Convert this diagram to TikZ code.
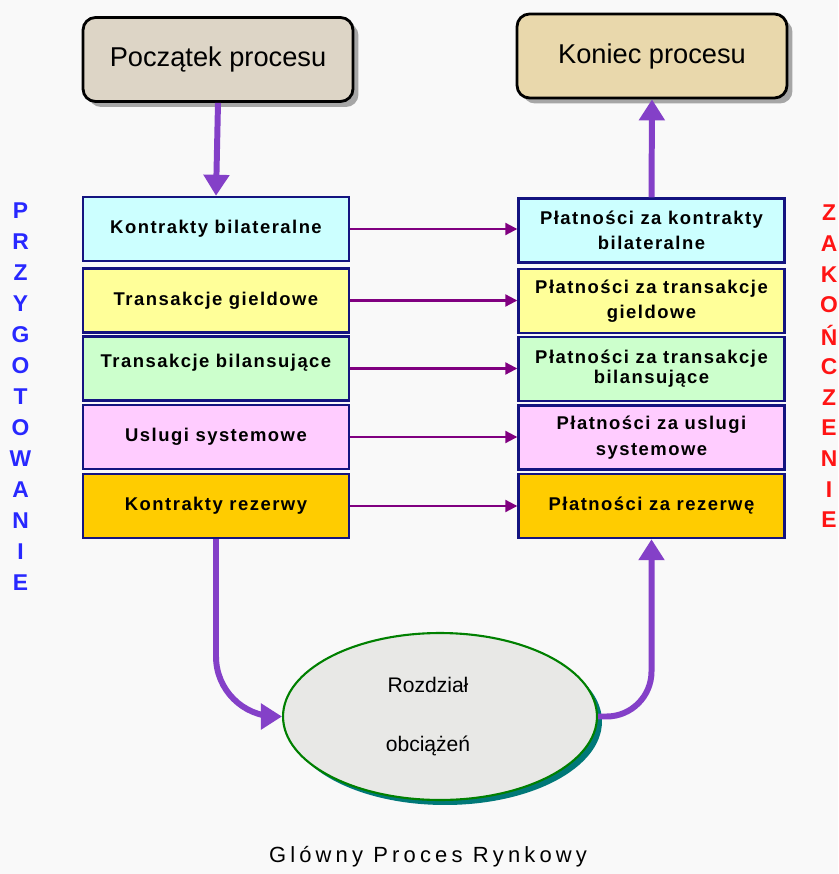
\documentclass[tikz,border=0pt]{standalone}
\usepackage{fontspec}
\setmainfont{Liberation Sans}
\newfontfamily\captionfont[LetterSpace=19]{Liberation Sans}
\newfontfamily\boxfont[LetterSpace=8]{Liberation Sans}
\usepackage{tikz}
\usetikzlibrary{arrows.meta,shapes.geometric,shadows}
\definecolor{pagebg}{RGB}{249,249,249}
\definecolor{rynekviolet}{RGB}{132,64,200}
\definecolor{payviolet}{RGB}{128,0,128}
\definecolor{boxnavy}{RGB}{20,20,128}
\definecolor{startfill}{RGB}{221,213,198}
\definecolor{endfill}{RGB}{233,216,172}
\definecolor{bilcyan}{RGB}{204,255,255}
\definecolor{gieldyellow}{RGB}{255,255,153}
\definecolor{bilgreen}{RGB}{204,255,204}
\definecolor{uslpink}{RGB}{255,204,255}
\definecolor{rezgold}{RGB}{255,204,0}
\definecolor{ellfill}{RGB}{232,232,230}
\definecolor{ellgreen}{RGB}{0,128,0}
\definecolor{ellteal}{RGB}{0,120,120}
\definecolor{prepblue}{RGB}{40,40,255}
\definecolor{endred}{RGB}{255,20,20}

\begin{document}
\begin{tikzpicture}[x=0.02cm, y=-0.02cm,
  topbox/.style={draw=black, line width=1.6pt, rounded corners=0.25cm,
    minimum width=5.4cm, minimum height=1.68cm,
    font=\fontsize{15.5}{18}\selectfont,
    drop shadow={shadow xshift=0.11cm, shadow yshift=-0.11cm, fill=gray!70, opacity=1}},
  stagebox/.style={draw=boxnavy, line width=1.4pt, minimum width=5.32cm,
    minimum height=1.28cm, align=center,
    font=\boxfont\bfseries\fontsize{10.5}{14.5}\selectfont,
    drop shadow={shadow xshift=0.03cm, shadow yshift=-0.03cm, fill=gray!60, opacity=1}},
  rynekarrow/.style={draw=rynekviolet, line width=3.4pt,
    -{Triangle[length=0.42cm, width=0.5cm]}},
  payarrow/.style={draw=payviolet, line width=1.2pt,
    -{Triangle[length=0.24cm, width=0.24cm]}},
  sideletter/.style={font=\bfseries\fontsize{13}{15}\selectfont, inner sep=0pt}]

  \useasboundingbox (0,0) rectangle (838,874);
  \fill[pagebg] (0,0) rectangle (838,874);

  % start and end of the process
  \node[topbox, fill=startfill] (poczatek) at (218,59.5) {Początek procesu};
  \node[topbox, fill=endfill] (koniec) at (652,56) {Koniec procesu};

  % preparation column
  \node[stagebox, fill=bilcyan] (kb) at (216,229) {Kontrakty bilateralne};
  \node[stagebox, fill=gieldyellow] (tg) at (216,300.5) {Transakcje gieldowe};
  \node[stagebox, fill=bilgreen] (tb) at (216,368.5) {Transakcje bilansujące\\[-6pt]};
  \node[stagebox, fill=uslpink] (us) at (216,437) {Uslugi systemowe};
  \node[stagebox, fill=rezgold] (kr) at (216,506) {Kontrakty rezerwy};

  % settlement column
  \node[stagebox, fill=bilcyan] (pkb) at (651.5,230.5) {Płatności za kontrakty\\bilateralne};
  \node[stagebox, fill=gieldyellow] (ptg) at (651.5,301) {Płatności za transakcje\\gieldowe};
  \node[stagebox, fill=bilgreen] (ptb) at (651.5,369) {Płatności za transakcje\\[-3pt]bilansujące};
  \node[stagebox, fill=uslpink] (pus) at (651.5,437.5) {Płatności za uslugi\\systemowe};
  \node[stagebox, fill=rezgold] (pkr) at (651.5,506) {Płatności za rezerwę};

  % load allocation
  \node[ellipse, draw=ellgreen, line width=1.2pt, fill=ellfill,
    minimum width=6.28cm, minimum height=3.34cm, align=center,
    font=\fontsize{12}{34}\selectfont,
    drop shadow={shadow xshift=0.1cm, shadow yshift=-0.1cm, fill=ellteal, opacity=1}]
    (rozdzial) at (440,716.5) {Rozdział\hspace*{0.48cm}\\obciążeń\hspace*{0.48cm}};

  \node[font=\captionfont\fontsize{12.5}{14}\selectfont] (glowny) at (428,857) {Glówny Proces Rynkowy};

  % side captions
  \foreach \ch [count=\i from 0] in {P,R,Z,Y,G,O,T,O,W,A,N,I,E}
    \node[sideletter, text=prepblue] (prep\i) at (20.5,{211+31*\i}) {\ch};
  \foreach \ch [count=\i from 0] in {Z,A,K,O,Ń,C,Z,E,N,I,E}
    \node[sideletter, text=endred] (kon\i) at (829,{213+30.7*\i}) {\ch};

  % connectors
  \draw[rynekarrow] (poczatek.south) -- (kb.north);
  \draw[rynekarrow] (pkb.north) -- (koniec.south);
  \foreach \a/\b in {kb/pkb, tg/ptg, tb/ptb, us/pus, kr/pkr}
    \draw[payarrow] (\a.east) -- (\a.east -| \b.west);
  \draw[rynekarrow, rounded corners=1.2cm] (kr.south) |- (rozdzial.west);
  \draw[rynekarrow, rounded corners=0.9cm] (rozdzial.east) -| (pkr.south);
\end{tikzpicture}
\end{document}
